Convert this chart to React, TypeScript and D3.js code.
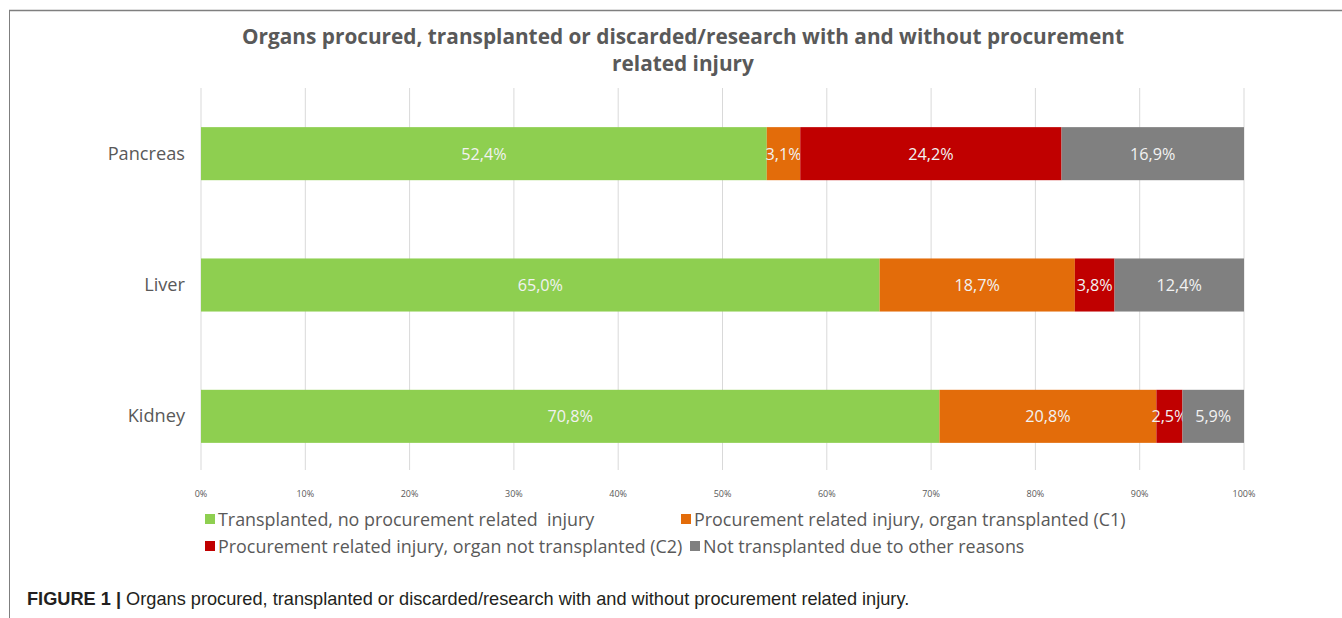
import React from "react";
import * as d3 from "d3";

const categories = ["Pancreas", "Liver", "Kidney"];
const seriesNames = [
  "Transplanted, no procurement related  injury",
  "Procurement related injury, organ transplanted (C1)",
  "Procurement related injury, organ not transplanted (C2)",
  "Not transplanted due to other reasons",
];
const transplantedNoInjury = [52.4, 65.0, 70.8];
const injuryTransplantedC1 = [3.1, 18.7, 20.8];
const injuryNotTransplantedC2 = [24.2, 3.8, 2.5];
const otherReasons = [16.9, 12.4, 5.9];
const xTicks = [0, 10, 20, 30, 40, 50, 60, 70, 80, 90, 100];
const colors = ["#8ECF50", "#E36C0A", "#C00000", "#808080"];

const W = 1342;
const H = 618;
const FONT = "'Open Sans', 'DejaVu Sans', sans-serif";

export default function App() {
  const series = [transplantedNoInjury, injuryTransplantedC1, injuryNotTransplantedC2, otherReasons];
  const x = d3.scaleLinear().domain([0, 100]).range([201, 1244]);
  const y = d3.scaleBand<string>().domain(categories).range([88, 482]).paddingInner(0.596).paddingOuter(0.298);
  const fmt = (v: number) => v.toFixed(1).replace(".", ",") + "%";

  const rows = categories.map((c, i) => {
    const vals = series.map((s) => s[i]);
    const total = d3.sum(vals);
    let acc = 0;
    return vals.map((v, k) => {
      const x0 = (acc / total) * 100;
      acc += v;
      const x1 = (acc / total) * 100;
      return { cat: c, k, v, x0, x1 };
    });
  });

  const legend = [
    { k: 0, x: 205, y: 520 },
    { k: 1, x: 681, y: 520 },
    { k: 2, x: 205, y: 547 },
    { k: 3, x: 690, y: 547 },
  ];

  return (
    <svg width={W} height={H} style={{ position: "absolute", left: 0, top: 0, background: "#fff" }}>
      <rect x={0} y={0} width={W} height={H} fill="#fff" />
      <line x1={9} y1={10.5} x2={W} y2={10.5} stroke="#7f7f7f" strokeWidth={1.5} />
      <line x1={9.5} y1={10} x2={9.5} y2={H} stroke="#7f7f7f" strokeWidth={1} />
      <g fontFamily={FONT} fill="#595959" fontWeight="bold" fontSize={20.8} textAnchor="middle">
        <text x={683} y={44}>Organs procured, transplanted or discarded/research with and without procurement</text>
        <text x={683} y={71}>related injury</text>
      </g>
      {xTicks.map((t) => (
        <g key={t}>
          <line x1={x(t)} x2={x(t)} y1={88} y2={470} stroke="#D9D9D9" strokeWidth={1} />
          <text x={x(t)} y={497} textAnchor="middle" fontFamily={FONT} fontSize={9} fill="#595959">
            {t}%
          </text>
        </g>
      ))}
      {categories.map((c) => (
        <text key={c} x={185} y={(y(c) as number) + y.bandwidth() / 2 + 6} textAnchor="end" fontFamily={FONT} fontSize={18.2} fill="#595959">
          {c}
        </text>
      ))}
      {rows.map((r) =>
        r.map((s) => (
          <g key={s.cat + s.k}>
            <rect x={x(s.x0)} y={y(s.cat)} width={x(s.x1) - x(s.x0)} height={y.bandwidth()} fill={colors[s.k]} />
            <text
              x={(x(s.x0) + x(s.x1)) / 2}
              y={(y(s.cat) as number) + y.bandwidth() / 2 + 6}
              textAnchor="middle"
              fontFamily={FONT}
              fontSize={16.2}
              fill="#F2F2F2"
            >
              {fmt(s.v)}
            </text>
          </g>
        ))
      )}
      {legend.map((l) => (
        <g key={l.k}>
          <rect x={l.x} y={l.y - 6} width={10} height={10} fill={colors[l.k]} />
          <text x={l.x + 13} y={l.y + 6} fontFamily={FONT} fontSize={17.9} fill="#595959" style={{ whiteSpace: "pre" }}>
            {seriesNames[l.k]}
          </text>
        </g>
      ))}
      <text x={27} y={605} fontFamily="'Liberation Sans', Arial, sans-serif" fontSize={18.2} fill="#231F20">
        <tspan fontWeight="bold">FIGURE 1 | </tspan>
        <tspan>Organs procured, transplanted or discarded/research with and without procurement related injury.</tspan>
      </text>
    </svg>
  );
}
